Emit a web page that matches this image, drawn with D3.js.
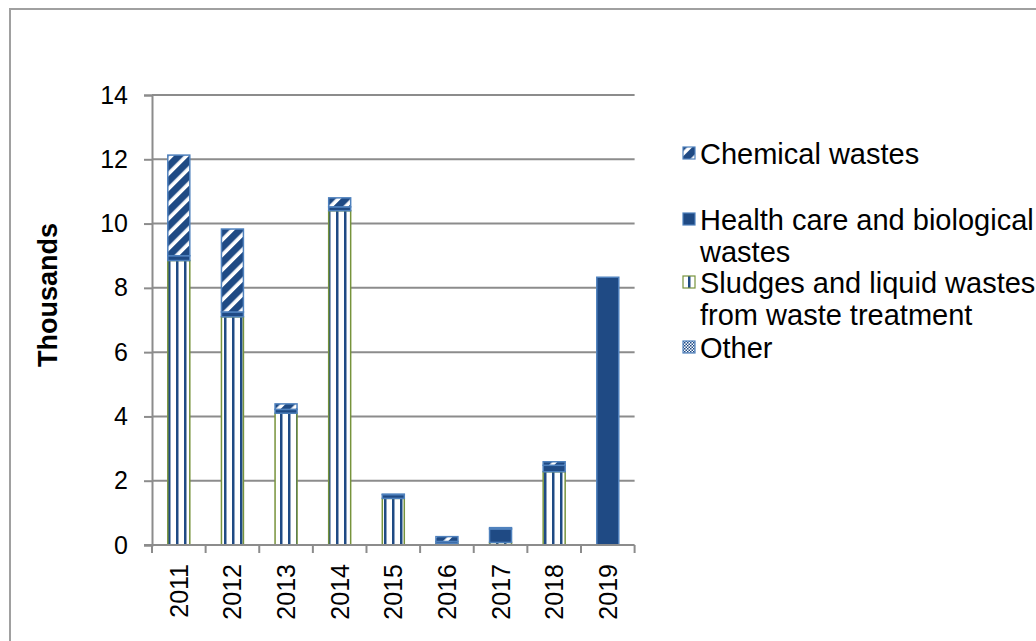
<!DOCTYPE html>
<html>
<head>
<meta charset="utf-8">
<script src="https://cdn.jsdelivr.net/npm/d3@7"></script>
<style>
  body { margin: 0; background: #fff; }
  svg { display: block; font-family: 'Liberation Sans', Arial, sans-serif; }
</style>
</head>
<body>
<div class="waste-chart"></div>
<script>
const width = 1036
const height = 641

const years = ['2011', '2012', '2013', '2014', '2015', '2016', '2017', '2018', '2019']
// thousands, stacked bottom -> top
const other = [0, 0, 0, 0, 0, 0, 0, 0, 0]
const sludges = [8.85, 7.1, 4.1, 10.4, 1.45, 0.05, 0.08, 2.28, 0]
const healthCare = [0.15, 0.15, 0.12, 0.12, 0.12, 0.06, 0.42, 0.2, 8.33]
const chemical = [3.13, 2.58, 0.17, 0.28, 0.01, 0.15, 0.04, 0.11, 0]

const yTicks = [0, 2, 4, 6, 8, 10, 12, 14]

const theme = {
  navy: '#1f4a84',
  lightBlue: '#4f81bd',
  olive: '#77933c',
  grid: '#8c8c8c',
  border: '#a0a0a0',
  text: '#000'
}

const plot = { left: 152, right: 634.6, top: 95, bottom: 545 }

const svg = d3.select('.waste-chart')
  .append('svg')
  .attr('width', width)
  .attr('height', height)

// patterns
const defs = svg.append('defs')

const chemPat = defs.append('pattern')
  .attr('id', 'pat-chem')
  .attr('patternUnits', 'userSpaceOnUse')
  .attr('width', 10.6)
  .attr('height', 10.6)
  .attr('patternTransform', 'rotate(45)')
chemPat.append('rect').attr('width', 10.6).attr('height', 10.6).attr('fill', '#fff')
chemPat.append('rect').attr('width', 7).attr('height', 10.6).attr('fill', theme.navy)

const sludgePat = defs.append('pattern')
  .attr('id', 'pat-sludge')
  .attr('patternUnits', 'userSpaceOnUse')
  .attr('width', 8)
  .attr('height', 8)
sludgePat.append('rect').attr('width', 8).attr('height', 8).attr('fill', '#fff')
sludgePat.append('rect').attr('x', 0).attr('width', 2.5).attr('height', 8).attr('fill', theme.navy)

const otherPat = defs.append('pattern')
  .attr('id', 'pat-other')
  .attr('patternUnits', 'userSpaceOnUse')
  .attr('width', 3)
  .attr('height', 3)
otherPat.append('rect').attr('width', 3).attr('height', 3).attr('fill', '#fff')
otherPat.append('rect').attr('width', 1.5).attr('height', 1.5).attr('fill', theme.navy)
otherPat.append('rect').attr('x', 1.5).attr('y', 1.5).attr('width', 1.5).attr('height', 1.5).attr('fill', theme.navy)

const seriesStyle = [
  { fill: 'url(#pat-other)', stroke: theme.lightBlue },
  { fill: 'url(#pat-sludge)', stroke: theme.olive },
  { fill: theme.navy, stroke: theme.lightBlue },
  { fill: 'url(#pat-chem)', stroke: theme.lightBlue }
]

// outer chart border
svg.append('rect')
  .attr('x', 10)
  .attr('y', 9)
  .attr('width', width + 20)
  .attr('height', height + 20)
  .attr('fill', 'none')
  .attr('stroke', theme.border)
  .attr('stroke-width', 2)

const x = d3.scaleBand()
  .domain(years)
  .range([plot.left, plot.right])
  .paddingInner(0.59)
  .paddingOuter(0.295)

const y = d3.scaleLinear()
  .domain([0, 14])
  .range([plot.bottom, plot.top])

// gridlines
svg.append('g')
  .selectAll('line')
  .data(yTicks.filter(d => d > 0))
  .enter()
  .append('line')
  .attr('x1', plot.left)
  .attr('x2', plot.right)
  .attr('y1', d => y(d))
  .attr('y2', d => y(d))
  .attr('stroke', theme.grid)
  .attr('stroke-width', 2)

// stacked bars
const rows = years.map((yr, i) => ({
  year: yr,
  0: other[i],
  1: sludges[i],
  2: healthCare[i],
  3: chemical[i]
}))
const stacked = d3.stack().keys([0, 1, 2, 3])(rows)

const layers = svg.append('g')
  .selectAll('g')
  .data(stacked)
  .enter()
  .append('g')
  .attr('fill', (d, i) => seriesStyle[i].fill)
  .attr('stroke', (d, i) => seriesStyle[i].stroke)
  .attr('stroke-width', 1.5)

layers.selectAll('rect')
  .data(d => d.filter(s => s[1] - s[0] > 0))
  .enter()
  .append('rect')
  .attr('x', d => x(d.data.year))
  .attr('width', x.bandwidth())
  .attr('y', d => y(d[1]))
  .attr('height', d => y(d[0]) - y(d[1]))

// y axis
const yAxis = svg.append('g')
  .attr('transform', `translate(${plot.left},0)`)
  .call(d3.axisLeft(y).tickValues(yTicks).tickSize(8).tickPadding(16))
yAxis.select('.domain').attr('stroke', theme.grid).attr('stroke-width', 2)
yAxis.selectAll('.tick line').attr('stroke', theme.grid).attr('stroke-width', 2)
yAxis.selectAll('.tick text')
  .attr('fill', theme.text)
  .style('font-size', '25px')
  .style('font-family', "'Liberation Sans', Arial, sans-serif")

// x axis line and ticks between categories
const xAxisG = svg.append('g')
xAxisG.append('line')
  .attr('x1', plot.left - 8)
  .attr('x2', plot.right)
  .attr('y1', plot.bottom)
  .attr('y2', plot.bottom)
  .attr('stroke', theme.grid)
  .attr('stroke-width', 2)
xAxisG.selectAll('.xtick')
  .data(d3.range(years.length + 1))
  .enter()
  .append('line')
  .attr('x1', i => plot.left + i * x.step())
  .attr('x2', i => plot.left + i * x.step())
  .attr('y1', plot.bottom)
  .attr('y2', plot.bottom + 8)
  .attr('stroke', theme.grid)
  .attr('stroke-width', 2)

xAxisG.selectAll('.xlabel')
  .data(years)
  .enter()
  .append('text')
  .attr('transform', d => `translate(${x(d) + x.bandwidth() / 2 + 9},${plot.bottom + 19}) rotate(-90)`)
  .attr('text-anchor', 'end')
  .style('font-size', '25px')
  .attr('fill', theme.text)
  .text(d => d)

// y title
svg.append('text')
  .attr('transform', `translate(57,295) rotate(-90)`)
  .attr('text-anchor', 'middle')
  .style('font-size', '27px')
  .style('font-weight', 'bold')
  .attr('fill', theme.text)
  .text('Thousands')

// legend, listed top of stack first
const legendItems = [
  { style: seriesStyle[3], lines: ['Chemical wastes'], y: 164 },
  { style: seriesStyle[2], lines: ['Health care and biological', 'wastes'], y: 230 },
  { style: seriesStyle[1], lines: ['Sludges and liquid wastes', 'from waste treatment'], y: 293 },
  { style: seriesStyle[0], lines: ['Other'], y: 358 }
]

const legend = svg.append('g')
const item = legend.selectAll('g')
  .data(legendItems)
  .enter()
  .append('g')

item.append('rect')
  .attr('x', 683)
  .attr('y', d => d.y - 17)
  .attr('width', 12)
  .attr('height', 12)
  .attr('fill', d => d.style.fill)
  .attr('stroke', d => d.style.stroke)
  .attr('stroke-width', 1.2)

item.append('text')
  .attr('x', 700)
  .attr('y', d => d.y)
  .style('font-size', '29px')
  .attr('fill', theme.text)
  .selectAll('tspan')
  .data(d => d.lines)
  .enter()
  .append('tspan')
  .attr('x', 700)
  .attr('dy', (l, i) => (i === 0 ? 0 : 32))
  .text(l => l)
</script>
</body>
</html>
